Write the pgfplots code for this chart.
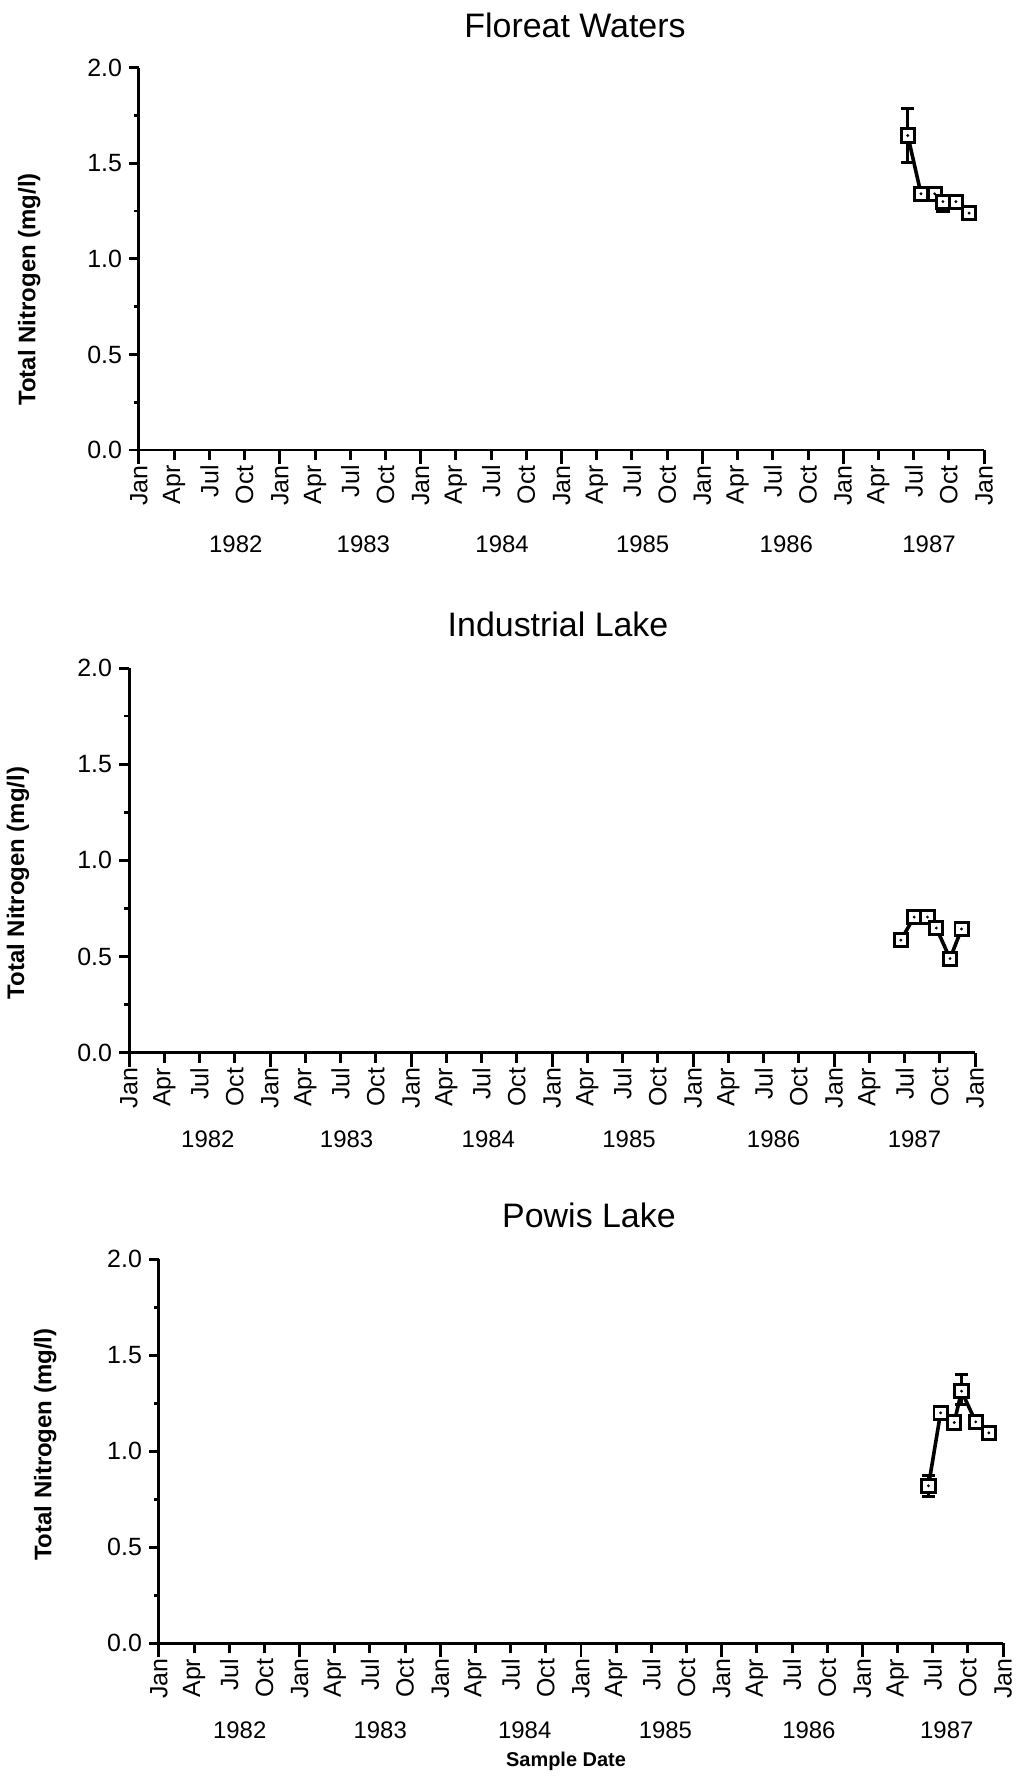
\documentclass[border=0pt]{standalone}
\usepackage{pgfplots}
\pgfplotsset{compat=1.18}
\usepackage{pgfplotstable}
\usepackage{fontspec}
\setmainfont{Liberation Sans}

\pgfdeclareplotmark{sqdot}{%
  \pgfpathrectangle{\pgfpoint{-\pgfplotmarksize}{-\pgfplotmarksize}}{\pgfpoint{2\pgfplotmarksize}{2\pgfplotmarksize}}%
  \pgfusepathqfillstroke
  \begin{pgfscope}%
  \pgfsetfillcolor{black}%
  \pgfpathcircle{\pgfpointorigin}{0.8pt}%
  \pgfusepathqfill
  \end{pgfscope}%
}

% x = years since Jan 1982
\pgfplotstableread{
x     y     ep    em
5.458 1.646 0.14  0.14
5.552 1.341 0.0   0.0
5.649 1.341 0.0   0.0
5.708 1.300 0.03  0.05
5.800 1.300 0.0   0.0
5.894 1.240 0.0   0.0
}\floreat

\pgfplotstableread{
x     y     ep    em
5.473 0.585 0.0 0.0
5.568 0.705 0.0 0.0
5.662 0.705 0.0 0.0
5.725 0.648 0.0 0.0
5.822 0.489 0.0 0.0
5.904 0.643 0.0 0.0
}\industrial

\pgfplotstableread{
x     y     ep    em
5.470 0.820 0.055 0.055
5.556 1.200 0.0   0.0
5.653 1.150 0.0   0.0
5.705 1.313 0.085 0.07
5.806 1.153 0.0   0.0
5.899 1.096 0.0   0.0
}\powis

\pgfplotsset{panel/.style={
  scale only axis, clip=false, anchor=south west,
  xmin=0, xmax=6, ymin=0, ymax=2,
  axis x line*=bottom, axis y line*=left,
  axis line style={line width=1.5pt},
  tick align=outside,
  major tick length=5pt, minor tick length=2.5pt,
  major tick style={black, line width=1.5pt},
  minor tick style={black, line width=1.3pt},
  xtick={0,0.25,0.5,0.75,1,1.25,1.5,1.75,2,2.25,2.5,2.75,3,3.25,3.5,3.75,4,4.25,4.5,4.75,5,5.25,5.5,5.75,6},
  xticklabels={Jan,Apr,Jul,Oct,Jan,Apr,Jul,Oct,Jan,Apr,Jul,Oct,Jan,Apr,Jul,Oct,Jan,Apr,Jul,Oct,Jan,Apr,Jul,Oct,Jan},
  xticklabel style={rotate=90, anchor=east, inner sep=2.5pt},
  extra x ticks={0,1,2,3,4,5,6}, extra x tick labels={},
  extra x tick style={major tick length=7pt, major tick style={black, line width=1.5pt}},
  ytick={0,0.5,1,1.5,2}, minor ytick={0.25,0.75,1.25,1.75},
  yticklabel style={/pgf/number format/.cd, fixed, fixed zerofill, precision=1, assume math mode=true},
  ticklabel style={font=\fontsize{12.5}{13}\selectfont},
}}
\pgfplotsset{series/.style={black, line width=1.8pt, mark=sqdot, mark size=3.3pt,
  mark options={solid, fill=white, line width=1.5pt},
  error bars/.cd, y dir=both, y explicit,
  error bar style={line width=1.4pt},
  error mark options={rotate=90, mark size=3.3pt, line width=1.4pt}}}

\newcommand{\yr}[1]{\fontsize{12}{12}\selectfont #1}

\begin{document}
\begin{tikzpicture}
\path (0,0) rectangle (510pt,-888.5pt);

% Panel 1
\begin{axis}[panel, at={(67.5pt,-225.5pt)}, width=423.5pt, height=191.5pt]
\addplot+[series] table[x=x, y=y, y error plus=ep, y error minus=em] {\floreat};
\node at (axis cs:0.687,0) [yshift=-47pt] {\yr{1982}};
\node at (axis cs:1.593,0) [yshift=-47pt] {\yr{1983}};
\node at (axis cs:2.578,0) [yshift=-47pt] {\yr{1984}};
\node at (axis cs:3.576,0) [yshift=-47pt] {\yr{1985}};
\node at (axis cs:4.596,0) [yshift=-47pt] {\yr{1986}};
\node at (axis cs:5.609,0) [yshift=-47pt] {\yr{1987}};
\end{axis}
\node at (286pt,-12.5pt) {\fontsize{17}{17}\selectfont Floreat Waters};
\node[rotate=90] at (12.5pt,-145pt) {\fontsize{12}{12}\selectfont\bfseries Total Nitrogen (mg/l)};

% Panel 2
\begin{axis}[panel, at={(62.5pt,-527.5pt)}, width=424pt, height=192.75pt]
\addplot+[series] table[x=x, y=y, y error plus=ep, y error minus=em] {\industrial};
\node at (axis cs:0.559,0) [yshift=-43.5pt] {\yr{1982}};
\node at (axis cs:1.543,0) [yshift=-43.5pt] {\yr{1983}};
\node at (axis cs:2.548,0) [yshift=-43.5pt] {\yr{1984}};
\node at (axis cs:3.546,0) [yshift=-43.5pt] {\yr{1985}};
\node at (axis cs:4.571,0) [yshift=-43.5pt] {\yr{1986}};
\node at (axis cs:5.570,0) [yshift=-43.5pt] {\yr{1987}};
\end{axis}
\node at (277.5pt,-312.8pt) {\fontsize{17}{17}\selectfont Industrial Lake};
\node[rotate=90] at (6.8pt,-442.5pt) {\fontsize{12}{12}\selectfont\bfseries Total Nitrogen (mg/l)};

% Panel 3
\begin{axis}[panel, at={(77.5pt,-823.5pt)}, width=423pt, height=192.5pt]
\addplot+[series] table[x=x, y=y, y error plus=ep, y error minus=em] {\powis};
\node at (axis cs:0.574,0) [yshift=-43.5pt] {\yr{1982}};
\node at (axis cs:1.573,0) [yshift=-43.5pt] {\yr{1983}};
\node at (axis cs:2.600,0) [yshift=-43.5pt] {\yr{1984}};
\node at (axis cs:3.600,0) [yshift=-43.5pt] {\yr{1985}};
\node at (axis cs:4.620,0) [yshift=-43.5pt] {\yr{1986}};
\node at (axis cs:5.600,0) [yshift=-43.5pt] {\yr{1987}};
\end{axis}
\node at (293pt,-609pt) {\fontsize{17}{17}\selectfont Powis Lake};
\node[rotate=90] at (20.5pt,-724pt) {\fontsize{12}{12}\selectfont\bfseries Total Nitrogen (mg/l)};
\node at (281.5pt,-882.5pt) {\fontsize{10}{10}\selectfont\bfseries Sample Date};
\end{tikzpicture}
\end{document}
